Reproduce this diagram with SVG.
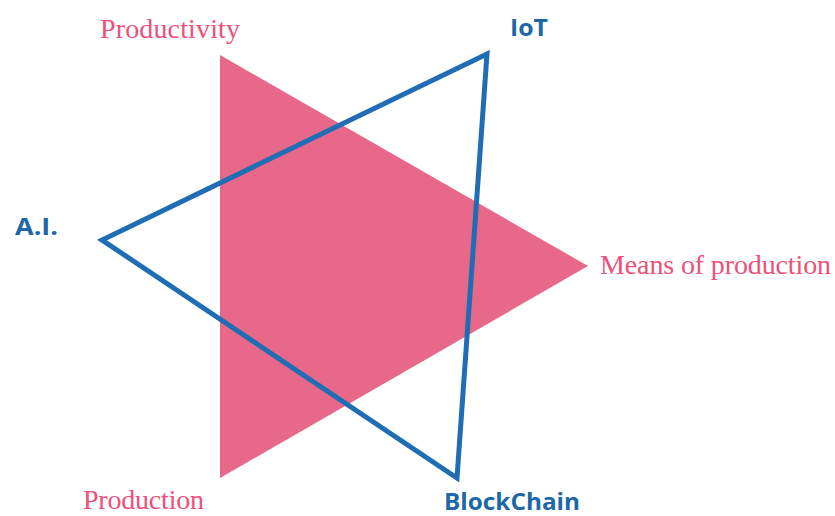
<svg xmlns="http://www.w3.org/2000/svg" width="835" height="516" viewBox="0 0 835 516">
<style>
.pink{font-family:"Liberation Serif",serif;font-size:28px;fill:#EE5079}
.blue{font-family:"Open Sans","Liberation Sans",sans-serif;font-weight:bold;font-size:23px;fill:#2067A8}
</style>
<rect width="835" height="516" fill="#fff"/>
<g id="connectors">
<polygon id="pink-triangle" points="220,55 588,266 220,478" fill="#E8688A"/>
<polygon id="blue-triangle" points="487,54 102,240 457,478" fill="none" stroke="#1F6DB4" stroke-width="5" stroke-linejoin="miter"/>
</g>
<g id="productivity"><text class="pink" x="100" y="38" textLength="140">Productivity</text></g>
<g id="means"><text class="pink" x="600" y="274" textLength="231">Means of production</text></g>
<g id="production"><text class="pink" x="83" y="509" textLength="121">Production</text></g>
<g id="iot"><text class="blue" x="510" y="36" textLength="38" lengthAdjust="spacingAndGlyphs">IoT</text></g>
<g id="ai"><text class="blue" x="15" y="235" textLength="43" lengthAdjust="spacingAndGlyphs">A.I.</text></g>
<g id="blockchain"><text class="blue" x="444" y="510" textLength="136" lengthAdjust="spacingAndGlyphs">BlockChain</text></g>
</svg>
